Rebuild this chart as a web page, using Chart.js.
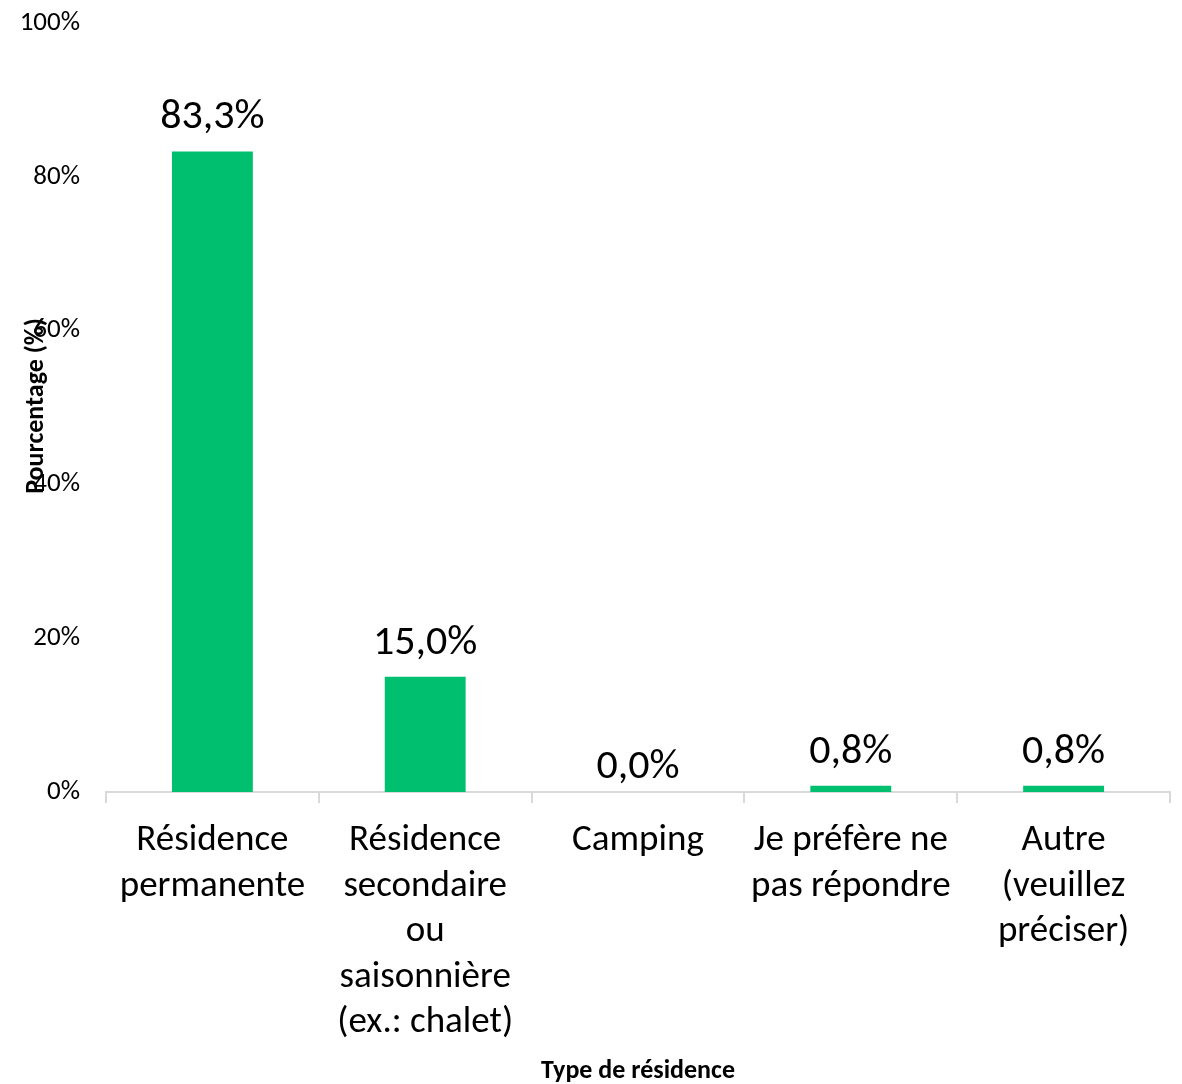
<!DOCTYPE html>
<html lang="fr">
<head>
    <meta charset="utf-8">
    <title>Type de résidence</title>
    <style>
        body { margin: 0; background: #fff; }
        .chart-container { width: 1182px; height: 1084px; position: relative; }
    </style>
</head>
<body>
    <div class="chart-container">
        <canvas id="residenceChart"></canvas>
    </div>

    <script src="https://cdn.jsdelivr.net/npm/chart.js"></script>
    <script>
        const categories = [
            ['Résidence', 'permanente'],
            ['Résidence', 'secondaire', 'ou', 'saisonnière', '(ex.: chalet)'],
            ['Camping'],
            ['Je préfère ne', 'pas répondre'],
            ['Autre', '(veuillez', 'préciser)']
        ];
        const percentages = [83.3, 15.0, 0.0, 0.8, 0.8];
        const yTicks = [0, 20, 40, 60, 80, 100];

        const FONT = "Carlito, Calibri, Lato, 'Open Sans', sans-serif";

        // étiquettes de valeur au-dessus des barres
        const valueLabels = {
            id: 'valueLabels',
            afterDatasetsDraw(chart) {
                const ctx = chart.ctx;
                const meta = chart.getDatasetMeta(0);
                ctx.save();
                ctx.font = '42px ' + FONT;
                ctx.fillStyle = '#000';
                ctx.textAlign = 'center';
                ctx.textBaseline = 'alphabetic';
                meta.data.forEach((bar, i) => {
                    const v = percentages[i];
                    const off = v === 0 ? 14 : 23;
                    ctx.fillText(v.toFixed(1).replace('.', ',') + '%', bar.x, bar.y - off);
                });
                ctx.restore();
            }
        };

        // titre de l'axe Y, placé par-dessus les graduations comme dans l'original
        const yTitle = {
            id: 'yTitle',
            afterDraw(chart) {
                const ctx = chart.ctx;
                ctx.save();
                ctx.translate(36, 406);
                ctx.rotate(-Math.PI / 2);
                ctx.font = 'bold 26px ' + FONT;
                ctx.fillStyle = '#000';
                ctx.textAlign = 'center';
                ctx.textBaseline = 'middle';
                ctx.fillText('Pourcentage (%)', 0, 0);
                ctx.restore();
            }
        };

        const ctx = document.getElementById('residenceChart').getContext('2d');
        new Chart(ctx, {
            type: 'bar',
            data: {
                labels: categories,
                datasets: [{
                    data: percentages,
                    backgroundColor: '#00BF6F',
                    barPercentage: 0.38,
                    categoryPercentage: 1.0
                }]
            },
            options: {
                responsive: true,
                maintainAspectRatio: false,
                animation: false,
                layout: { padding: { top: 23, right: 12, left: 0, bottom: 0 } },
                plugins: {
                    legend: { display: false },
                    tooltip: { enabled: false }
                },
                scales: {
                    x: {
                        afterFit(scale) { scale.height = 292; },
                        grid: {
                            display: true,
                            drawOnChartArea: false,
                            drawTicks: true,
                            tickLength: 11,
                            color: '#d9d9d9',
                            lineWidth: 2
                        },
                        border: { display: true, color: '#d9d9d9', width: 2 },
                        ticks: {
                            color: '#000',
                            padding: 15,
                            maxRotation: 0,
                            autoSkip: false,
                            font: { family: FONT, size: 37, lineHeight: 1.23 }
                        },
                        title: {
                            display: true,
                            text: 'Type de résidence',
                            color: '#000',
                            padding: { top: 0, bottom: 0 },
                            font: { family: FONT, size: 26, weight: 'bold', lineHeight: 1 }
                        }
                    },
                    y: {
                        min: 0,
                        max: 100,
                        afterFit(scale) {
                            scale.width = 106;
                            scale.paddingTop = 0;
                            scale.paddingBottom = 0;
                        },
                        afterBuildTicks(scale) { scale.ticks = yTicks.map(v => ({ value: v })); },
                        grid: { display: false, drawTicks: false },
                        border: { display: false },
                        ticks: {
                            color: '#000',
                            padding: 26,
                            font: { family: FONT, size: 27 },
                            callback: v => v + '%'
                        }
                    }
                }
            },
            plugins: [valueLabels, yTitle]
        });
    </script>
</body>
</html>
